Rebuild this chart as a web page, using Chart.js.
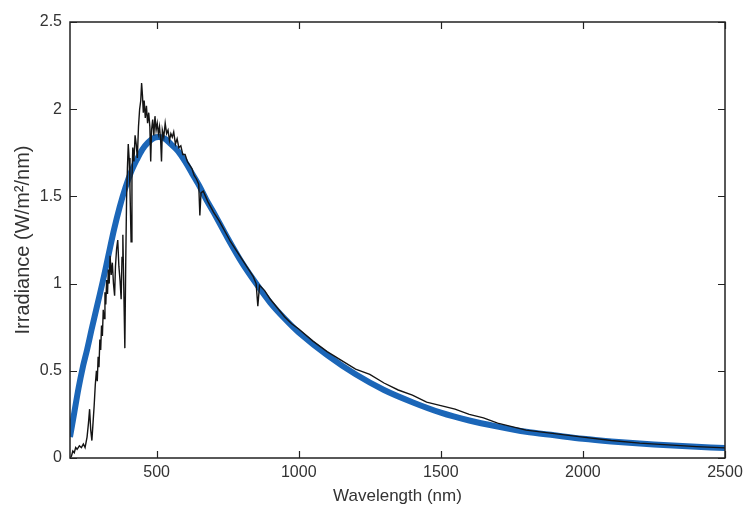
<!DOCTYPE html>
<html>
<head>
<meta charset="utf-8">
<script src="https://cdn.jsdelivr.net/npm/chart.js@4/dist/chart.umd.min.js"></script>
<style>
  html, body { margin: 0; padding: 0; background: #ffffff; }
  #spectrumChart { display: block; }
</style>
</head>
<body>
<canvas id="spectrumChart" width="744" height="512"></canvas>
<script>
// Measured solar spectrum (black line)
const solarWavelength = [
    195, 200, 205, 210, 215, 220, 228, 235, 242, 248, 255, 260, 264, 268, 272, 276, 280, 284, 288, 291,
    294, 297, 300, 303, 306, 309, 312, 315, 318, 321, 324, 327, 330, 333, 336, 340, 344, 348, 352, 355,
    359, 363, 367, 371, 375, 378, 381, 384, 388, 391, 394, 397, 400, 403, 406, 410, 413, 416, 420, 424,
    428, 432, 436, 440, 444, 447, 450, 453, 456, 460, 464, 468, 472, 476, 479, 482, 486, 490, 494, 498,
    502, 506, 510, 514, 517, 520, 525, 530, 535, 540, 545, 550, 555, 560, 566, 572, 578, 585, 592, 600,
    608, 616, 624, 632, 640, 648, 652, 656, 664, 672, 680, 690, 700, 720, 740, 760, 780, 800, 820, 840,
    850, 856, 862, 880, 900, 925, 950, 975, 1000, 1050, 1100, 1150, 1200, 1250, 1300, 1350, 1400, 1450,
    1500, 1550, 1600, 1650, 1700, 1750, 1800, 1850, 1900, 1950, 2000, 2100, 2200, 2300, 2400, 2500
];
const solarIrradiance = [
    0.00, 0.01, 0.04, 0.03, 0.06, 0.05, 0.07, 0.06, 0.08, 0.06, 0.12, 0.20, 0.28, 0.16, 0.10, 0.20, 0.30, 0.42, 0.50, 0.44,
    0.58, 0.52, 0.68, 0.62, 0.76, 0.70, 0.85, 0.80, 0.95, 0.88, 1.02, 0.94, 1.08, 1.00, 1.16, 1.05, 1.12, 1.00, 0.93, 1.10,
    1.20, 1.25, 1.10, 1.02, 0.91, 1.15, 1.28, 1.00, 0.63, 1.10, 1.48, 1.66, 1.80, 1.72, 1.55, 1.24, 1.60, 1.78, 1.70, 1.85,
    1.80, 1.72, 1.90, 2.00, 2.05, 2.15, 2.08, 1.98, 2.05, 1.95, 2.02, 1.92, 1.98, 1.90, 1.70, 1.88, 1.94, 1.85, 1.96, 1.88,
    1.92, 1.86, 1.90, 1.82, 1.70, 1.88, 1.84, 1.92, 1.86, 1.88, 1.82, 1.86, 1.84, 1.87, 1.80, 1.83, 1.78, 1.79, 1.74, 1.74,
    1.70, 1.68, 1.66, 1.62, 1.60, 1.57, 1.39, 1.52, 1.53, 1.50, 1.47, 1.44, 1.41, 1.36, 1.30, 1.24, 1.19, 1.14, 1.09, 1.04,
    1.00, 0.87, 0.99, 0.96, 0.91, 0.86, 0.81, 0.77, 0.74, 0.67, 0.61, 0.56, 0.51, 0.48, 0.43, 0.39, 0.36, 0.32,
    0.30, 0.28, 0.25, 0.23, 0.20, 0.18, 0.16, 0.15, 0.14, 0.13, 0.12, 0.10, 0.085, 0.075, 0.065, 0.058
];

// Blackbody fit (thick blue line)
const blackbodyWavelength = [
    195, 210, 225, 240, 255, 270, 290, 310, 330, 350, 370, 390, 410, 430, 450, 470, 490, 510, 530, 550,
    575, 600, 625, 650, 675, 700, 750, 800, 850, 900, 950, 1000, 1100, 1200, 1300, 1400, 1500, 1600, 1700,
    1800, 1900, 2000, 2100, 2200, 2300, 2400, 2500
];
const blackbodyIrradiance = [
    0.12, 0.26, 0.40, 0.52, 0.62, 0.73, 0.87, 1.01, 1.16, 1.31, 1.44, 1.55, 1.64, 1.71, 1.77, 1.81, 1.835, 1.84, 1.83, 1.80,
    1.76, 1.70, 1.63, 1.56, 1.48, 1.41, 1.26, 1.12, 1.00, 0.89, 0.80, 0.72, 0.59, 0.48, 0.39, 0.32, 0.26, 0.215, 0.18,
    0.15, 0.13, 0.11, 0.095, 0.083, 0.073, 0.064, 0.057
];

const xTicks = [500, 1000, 1500, 2000, 2500];
const yTicks = [0, 0.5, 1, 1.5, 2, 2.5];
const yTickLabels = ['0', '0.5', '1', '1.5', '2', '2.5'];

const textColor = '#333333';
const fontFamily = "'Liberation Sans', Arial, Helvetica, sans-serif";

function toPoints(xs, ys) {
    return xs.map((x, i) => ({ x: x, y: ys[i] }));
}

// MATLAB style box with inward tick marks on all four sides
const boxPlugin = {
    id: 'boxPlugin',
    afterDraw(chart) {
        const { ctx, chartArea } = chart;
        const xScale = chart.scales.x;
        const yScale = chart.scales.y;
        const len = 7;
        ctx.save();
        ctx.strokeStyle = '#222222';
        ctx.lineWidth = 1.5;
        ctx.strokeRect(chartArea.left, chartArea.top, chartArea.right - chartArea.left, chartArea.bottom - chartArea.top);
        ctx.beginPath();
        xTicks.forEach(v => {
            const px = Math.round(xScale.getPixelForValue(v)) + 0.5;
            ctx.moveTo(px, chartArea.bottom);
            ctx.lineTo(px, chartArea.bottom - len);
            ctx.moveTo(px, chartArea.top);
            ctx.lineTo(px, chartArea.top + len);
        });
        yTicks.forEach(v => {
            const py = Math.round(yScale.getPixelForValue(v)) + 0.5;
            ctx.moveTo(chartArea.left, py);
            ctx.lineTo(chartArea.left + len, py);
            ctx.moveTo(chartArea.right, py);
            ctx.lineTo(chartArea.right - len, py);
        });
        ctx.lineWidth = 1.2;
        ctx.stroke();
        ctx.restore();
    }
};

const canvas = document.getElementById('spectrumChart');
new Chart(canvas.getContext('2d'), {
    type: 'line',
    data: {
        datasets: [
            {
                label: 'Solar spectrum',
                data: toPoints(solarWavelength, solarIrradiance),
                borderColor: '#141414',
                borderWidth: 1.4,
                pointRadius: 0,
                tension: 0,
                fill: false
            },
            {
                label: 'Blackbody',
                data: toPoints(blackbodyWavelength, blackbodyIrradiance),
                borderColor: '#1b66b8',
                borderWidth: 6,
                pointRadius: 0,
                tension: 0.3,
                fill: false
            }
        ]
    },
    options: {
        responsive: false,
        animation: false,
        devicePixelRatio: 1,
        layout: { padding: { left: 0, right: 19, top: 22, bottom: 0 } },
        plugins: {
            legend: { display: false },
            tooltip: { enabled: false }
        },
        scales: {
            x: {
                type: 'linear',
                min: 195,
                max: 2500,
                grid: { display: false, drawTicks: false },
                border: { display: false },
                afterBuildTicks: scale => {
                    scale.ticks = xTicks.map(v => ({ value: v }));
                },
                afterFit: scale => {
                    scale.height = 54;
                    scale.paddingLeft = 0;
                    scale.paddingRight = 0;
                },
                ticks: {
                    padding: 5,
                    maxRotation: 0,
                    color: textColor,
                    font: { family: fontFamily, size: 16 },
                    callback: value => String(value)
                },
                title: {
                    display: true,
                    text: 'Wavelength (nm)',
                    color: textColor,
                    font: { family: fontFamily, size: 17 },
                    padding: { top: 0, bottom: 5 }
                }
            },
            y: {
                type: 'linear',
                min: 0,
                max: 2.5,
                grid: { display: false, drawTicks: false },
                border: { display: false },
                afterBuildTicks: scale => {
                    scale.ticks = yTicks.map(v => ({ value: v }));
                },
                afterFit: scale => {
                    scale.width = 70;
                    scale.paddingTop = 0;
                    scale.paddingBottom = 0;
                },
                ticks: {
                    padding: 8,
                    color: textColor,
                    font: { family: fontFamily, size: 16 },
                    callback: value => yTickLabels[yTicks.indexOf(value)]
                },
                title: {
                    display: true,
                    text: 'Irradiance (W/m\u00B2/nm)',
                    color: textColor,
                    font: { family: fontFamily, size: 20 },
                    padding: { top: 11, bottom: 0 }
                }
            }
        }
    },
    plugins: [boxPlugin]
});
</script>
</body>
</html>
